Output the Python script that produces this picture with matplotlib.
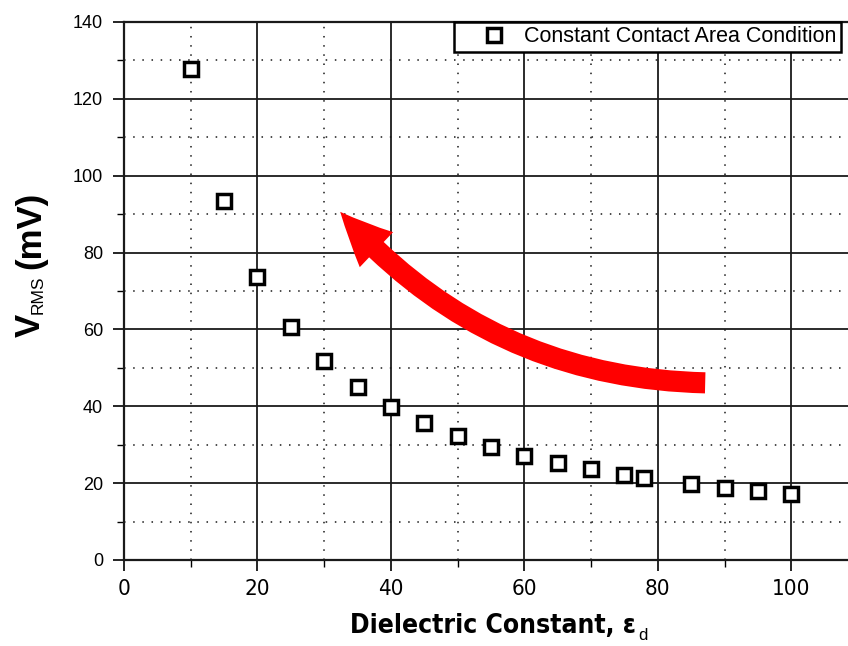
import matplotlib
matplotlib.use("Agg")
import matplotlib.pyplot as plt
from matplotlib import font_manager as fm
from matplotlib.patches import FancyArrowPatch
from matplotlib.ticker import MultipleLocator

# Data
dielectric = [10, 15, 20, 25, 30, 35, 40, 45, 50, 55, 60, 65, 70, 75, 78, 85, 90, 95, 100]
vrms = [127.8, 93.4, 73.6, 60.6, 51.8, 45.0, 39.8, 35.6, 32.3, 29.4, 27.1, 25.2, 23.7, 22.1, 21.3, 19.8, 18.7, 18.0, 17.2]
series_label = "Constant Contact Area Condition"
xlabel_main = "Dielectric Constant, \u03b5"
xlabel_sub = "d"
ylabel_main = "V"
ylabel_sub = "RMS"
ylabel_unit = "(mV)"
arrow_tail = (87.1, 46.1)
arrow_head = (32.4, 90.6)


def find_narrow(bold):
    best = None
    for f in fm.fontManager.ttflist:
        nm = f.name.lower()
        narrow = ('narrow' in nm or 'condensed' in nm or
                  str(f.stretch) in ('condensed', 'semi-condensed', '500', '300', 'extra-condensed'))
        if not narrow or f.style != 'normal':
            continue
        w = f.weight if isinstance(f.weight, int) else (700 if 'bold' in str(f.weight) else 400)
        if bold and w < 600:
            continue
        if not bold and w >= 600:
            continue
        score = 0 if 'liberation' in nm else (1 if 'dejavu' in nm else 2)
        if best is None or score < best[0]:
            best = (score, f.fname)
    return best[1] if best else None


narrow_reg = find_narrow(False)
narrow_bold = find_narrow(True)
if narrow_reg:
    tick_fp = fm.FontProperties(fname=narrow_reg, size=16)
else:
    tick_fp = fm.FontProperties(family='Liberation Sans', size=13)
if narrow_bold:
    xl_fp = fm.FontProperties(fname=narrow_bold, size=19)
else:
    xl_fp = fm.FontProperties(family='Liberation Sans', weight='bold', size=16.5)

W, H = 848, 646
fig = plt.figure(figsize=(W / 100, H / 100), dpi=100)
ax = fig.add_axes([124 / W, (H - 560) / H, (858 - 124) / W, 538 / H])
ax.set_xlim(0, 110)
ax.set_ylim(0, 140)

ax.xaxis.set_major_locator(MultipleLocator(20))
ax.xaxis.set_minor_locator(MultipleLocator(10))
ax.yaxis.set_major_locator(MultipleLocator(20))
ax.yaxis.set_minor_locator(MultipleLocator(10))

ax.grid(True, which='major', color='#1a1a1a', linewidth=1.3, linestyle='-')
ax.grid(True, which='minor', color='#1a1a1a', linewidth=1.1, linestyle=(0, (1, 5)))
ax.set_axisbelow(True)

for s in ax.spines.values():
    s.set_linewidth(1.6)
    s.set_color('#1a1a1a')

ax.tick_params(which='major', direction='out', length=8, width=1.2)
ax.tick_params(which='minor', direction='out', length=5, width=1.0)
ax.tick_params(axis='y', which='major', pad=7)
ax.tick_params(axis='x', which='major', pad=6)
for lab in ax.get_xticklabels():
    lab.set_fontproperties(tick_fp)
for lab in ax.get_yticklabels():
    lab.set_fontproperties(fm.FontProperties(family='Liberation Sans', size=13))

ax.plot(dielectric, vrms, linestyle='none', marker='s', markersize=10,
        markerfacecolor='white', markeredgecolor='black', markeredgewidth=2.5,
        label=series_label, zorder=5)

leg = fig.legend(loc='upper left', bbox_to_anchor=(454 / W, 1 - 22 / H),
                 bbox_transform=fig.transFigure, frameon=True, fancybox=False,
                 borderaxespad=0.0, borderpad=0.2, handlelength=3.3, handletextpad=-0.25,
                 prop={'family': 'Liberation Sans', 'size': 15.5})
leg.get_frame().set_edgecolor('black')
leg.get_frame().set_linewidth(1.8)
leg.get_frame().set_alpha(1)

# x label
fig.text(350 / W, 1 - 633 / H, xlabel_main, fontproperties=xl_fp, ha='left', va='baseline')
fig.text(638 / W, 1 - 640 / H, xlabel_sub, family='Liberation Sans', size=12, ha='left', va='baseline')

# y label (rotated)
fig.text(40 / W, 1 - 337 / H, ylabel_main, family='Liberation Sans', weight='bold', size=25,
         rotation=90, rotation_mode='anchor', ha='left', va='baseline')
fig.text(43 / W, 1 - 314 / H, ylabel_sub, family='Liberation Sans', size=12.5,
         rotation=90, rotation_mode='anchor', ha='left', va='baseline')
fig.text(40 / W, 1 - 269 / H, ylabel_unit, family='Liberation Sans', weight='bold', size=25,
         rotation=90, rotation_mode='anchor', ha='left', va='baseline')

arrow = FancyArrowPatch(arrow_tail, arrow_head, connectionstyle='arc3,rad=-0.22',
                        arrowstyle='simple,head_width=2.4,head_length=2.6,tail_width=1.05',
                        mutation_scale=14.5, color='#ff0000', zorder=6, linewidth=0,
                        shrinkA=0, shrinkB=0)
ax.add_patch(arrow)

fig.savefig('out.png', dpi=100)
